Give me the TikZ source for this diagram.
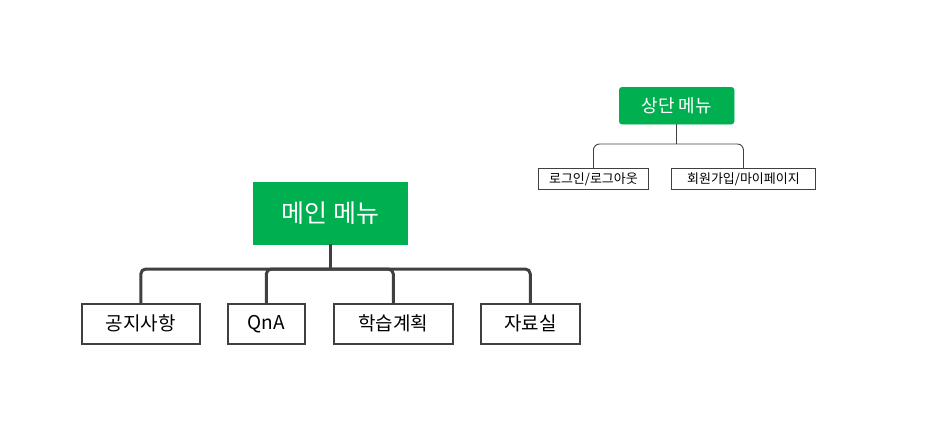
\documentclass[tikz,border=0pt]{standalone}
\usepackage{fontspec}
\setmainfont{Noto Sans CJK KR}
\definecolor{mgreen}{HTML}{00B050}
\definecolor{lgray}{HTML}{404040}
\begin{document}
\begin{tikzpicture}[x=1pt,y=-1pt,
  headbox/.style={fill=mgreen,draw=mgreen,text=white,inner sep=0pt,anchor=north west},
  childbox/.style={draw=lgray,fill=white,inner sep=0pt,anchor=north west},
  bigline/.style={draw=lgray,line width=3pt},
  smallline/.style={draw=lgray,line width=0.9pt}]
\useasboundingbox (0,0) rectangle (930,429);
% main menu
\node[headbox,minimum width=154pt,minimum height=62pt,font=\fontsize{25}{27}\selectfont] (main) at (253,182) {메인 메뉴};
\node[childbox,line width=1.6pt,minimum width=118pt,minimum height=40pt,font=\fontsize{19}{21}\selectfont] (c1) at (81,303) {공지사항};
\node[childbox,line width=1.6pt,minimum width=77pt,minimum height=40pt,font=\fontsize{19}{21}\selectfont] (c2) at (227,303) {QnA};
\node[childbox,line width=1.6pt,minimum width=119pt,minimum height=40pt,font=\fontsize{19}{21}\selectfont] (c3) at (333,303) {학습계획};
\node[childbox,line width=1.6pt,minimum width=99pt,minimum height=40pt,font=\fontsize{19}{21}\selectfont] (c4) at (480,303) {자료실};
\coordinate (bus) at (main.south |- 0,269);
\draw[bigline] (main.south) -- (bus);
\foreach \c in {c1,c2,c3,c4}{
  \draw[bigline,rounded corners=5pt] (bus) -| (\c.north);
}
% top menu
\node[headbox,rounded corners=3pt,minimum width=115pt,minimum height=37pt,font=\fontsize{18}{20}\selectfont] (top) at (619,87) {상단 메뉴};
\node[childbox,line width=0.9pt,minimum width=110pt,minimum height=21pt,font=\fontsize{13}{15}\selectfont] (t1) at (538,168) {로그인/로그아웃};
\node[childbox,line width=0.9pt,minimum width=144pt,minimum height=21pt,font=\fontsize{13}{15}\selectfont] (t2) at (671,168) {회원가입/마이페이지};
\coordinate (tbus) at (top.south |- 0,144);
\draw[smallline] (top.south) -- (tbus);
\draw[smallline,rounded corners=6pt] (tbus) -| (t1.north);
\draw[smallline,rounded corners=6pt] (tbus) -| (t2.north);
\end{tikzpicture}
\end{document}
